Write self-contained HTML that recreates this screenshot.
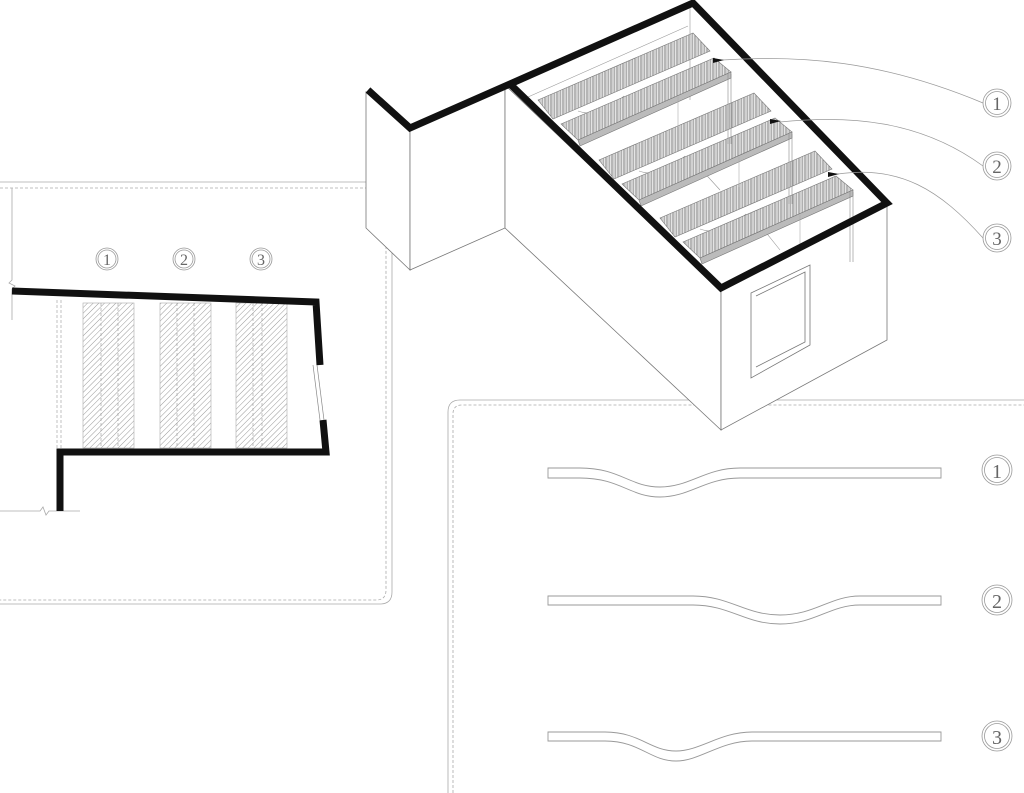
<!DOCTYPE html>
<html><head><meta charset="utf-8"><style>
html,body{margin:0;padding:0;background:#fff;}
svg{display:block;}
text{font-family:"Liberation Serif",serif;fill:#666;}
</style></head><body>
<svg width="1024" height="793" viewBox="0 0 1024 793" xmlns="http://www.w3.org/2000/svg">
<defs>
<pattern id="hat" width="4" height="4" patternUnits="userSpaceOnUse" patternTransform="rotate(45)">
<rect width="4" height="4" fill="#fff"/><line x1="0" y1="0" x2="0" y2="4" stroke="#999" stroke-width="1"/></pattern>
<pattern id="slat" width="6" height="6" patternUnits="userSpaceOnUse">
<rect width="6" height="6" fill="#e4e4e4"/><line x1="1" y1="0" x2="1" y2="6" stroke="#888" stroke-width="1"/><line x1="3" y1="0" x2="3" y2="6" stroke="#aaa" stroke-width="0.7"/><line x1="4.5" y1="0" x2="4.5" y2="6" stroke="#999" stroke-width="0.7"/></pattern>
</defs>

<!-- left panel frame -->
<g fill="none" stroke="#aaa" stroke-width="0.8">
<path d="M0 182 H380 Q392 182 392 194 V592 Q392 604 380 604 H0"/>
<path d="M0 188 H376 Q386 188 386 198 V590 Q386 600 376 600 H0" stroke-dasharray="3 2"/>
<path d="M12 188 V280 l-3 3 l6 3 l-3 3 V320"/>
<path d="M0 511 H40 l3 -4 l3 8 l3 -4 H80"/>
</g>
<!-- plan -->
<rect x="83" y="303" width="51" height="145" fill="url(#hat)" stroke="#aaa" stroke-width="0.6"/>
<rect x="160" y="303" width="51" height="145" fill="url(#hat)" stroke="#aaa" stroke-width="0.6"/>
<rect x="236" y="303" width="51" height="145" fill="url(#hat)" stroke="#aaa" stroke-width="0.6"/>
<g stroke="#999" stroke-width="0.6" stroke-dasharray="3 2">
<line x1="101" y1="303" x2="101" y2="448"/><line x1="118" y1="303" x2="118" y2="448"/>
<line x1="177" y1="303" x2="177" y2="448"/><line x1="194" y1="303" x2="194" y2="448"/>
<line x1="253" y1="303" x2="253" y2="448"/><line x1="262" y1="303" x2="262" y2="448"/>
<line x1="57" y1="300" x2="57" y2="448"/><line x1="61" y1="300" x2="61" y2="448"/>
</g>
<path d="M12 291 L316 302 L320 365" fill="none" stroke="#111" stroke-width="7"/>
<path d="M323 420 L326 452 L60 452 L60 511" fill="none" stroke="#111" stroke-width="7"/>
<path d="M313 365 L320 420 M317 365 L324 420" stroke="#888" stroke-width="0.7"/>
<g fill="none" stroke="#999" stroke-width="0.8">
<circle cx="107" cy="259" r="11"/><circle cx="107" cy="259" r="9"/>
<circle cx="184" cy="259" r="11"/><circle cx="184" cy="259" r="9"/>
<circle cx="261" cy="259" r="11"/><circle cx="261" cy="259" r="9"/>
</g>
<text x="107" y="265" font-size="16" text-anchor="middle">1</text>
<text x="184" y="265" font-size="16" text-anchor="middle">2</text>
<text x="261" y="265" font-size="16" text-anchor="middle">3</text>

<!-- bottom right panel -->
<g fill="none" stroke="#aaa" stroke-width="0.8">
<path d="M448 793 V412 Q448 400 460 400 H1024"/>
<path d="M453 793 V414 Q453 405 462 405 H1024" stroke-dasharray="3 2"/>
</g>
<g fill="#fff" stroke="#999" stroke-width="0.9">
<path d="M548 468 H580 C620 468 630 487 660 487 C690 487 705 468 740 468 H941 V478 H740 C705 478 690 497 660 497 C630 497 620 478 580 478 H548 Z"/>
<path d="M548 596 H693 C730 596 745 615 780 615 C815 615 830 596 860 596 H941 V605 H860 C830 605 815 624 780 624 C745 624 730 605 693 605 H548 Z"/>
<path d="M548 732 H605 C640 732 650 751 676 751 C700 751 720 732 752 732 H941 V741 H752 C720 741 700 761 676 761 C650 761 640 741 605 741 H548 Z"/>
</g>
<g fill="none" stroke="#999" stroke-width="0.8">
<circle cx="997" cy="470" r="15"/><circle cx="997" cy="470" r="12.5"/>
<circle cx="997" cy="600" r="15"/><circle cx="997" cy="600" r="12.5"/>
<circle cx="997" cy="736" r="15"/><circle cx="997" cy="736" r="12.5"/>
<circle cx="997" cy="103" r="14"/><circle cx="997" cy="103" r="11.5"/>
<circle cx="997" cy="166" r="14"/><circle cx="997" cy="166" r="11.5"/>
<circle cx="997" cy="238" r="14"/><circle cx="997" cy="238" r="11.5"/>
</g>
<text x="997" y="478" font-size="20" text-anchor="middle">1</text>
<text x="997" y="608" font-size="20" text-anchor="middle">2</text>
<text x="997" y="744" font-size="20" text-anchor="middle">3</text>
<text x="997" y="110" font-size="19" text-anchor="middle">1</text>
<text x="997" y="173" font-size="19" text-anchor="middle">2</text>
<text x="997" y="245" font-size="19" text-anchor="middle">3</text>

<!-- isometric -->
<g fill="#fff" stroke="#777" stroke-width="0.8">
<path d="M366 92 L366 228 L410 270 L410 128 Z"/>
<path d="M410 128 L505 85 L505 228 L410 270 Z"/>
<path d="M505 85 L721 290 L721 430 L505 228 Z"/>
<path d="M721 290 L887 203 L887 340 L721 430 Z"/>
<path d="M751 293 L810 265 L810 345 L751 378 Z"/>
<path d="M756 296 L805 272 L805 342 L756 367" fill="none"/>
</g>
<g stroke="#999" stroke-width="0.6" fill="none">
<path d="M690 5 V100 M528 97 L688 26"/>
<path d="M700 168 L720 190 M760 225 L780 250"/>
</g>
<!-- beams (defined at beam 3 position) -->
<g id="beam" stroke="#777" stroke-width="0.6">
<path d="M660 218 L815 151 L832 169 L675 237 Z" fill="url(#slat)"/>
<path d="M700 229 Q722 237 746 214" fill="none" stroke="#999"/>
<path d="M683 242 L836 176 L853 190 L700 258 Z" fill="url(#slat)"/>
<path d="M700 258 L853 190 L853 196 L702 264 Z" fill="#bbb"/>
<path d="M850 192 V262 M853 192 V262" stroke="#888"/>
<path d="M800 215 V245" stroke="#aaa"/>
</g>
<use href="#beam" transform="translate(-61,-58)"/>
<use href="#beam" transform="translate(-122,-118)"/>
<!-- thick outline -->
<path d="M368 90 L410 128 L510 84 L693 3 L887 203 L721 288 L510 84" fill="none" stroke="#111" stroke-width="7" stroke-linejoin="miter"/>
<!-- leaders -->
<g fill="none" stroke="#999" stroke-width="0.7">
<path d="M722 60 C800 55 880 60 983 103"/>
<path d="M780 122 C850 115 920 120 983 166"/>
<path d="M838 174 C900 165 940 190 983 238"/>
</g>
<g fill="#111">
<path d="M713 58 L724 60 L713 63 Z"/>
<path d="M770 119 L781 121 L770 124 Z"/>
<path d="M828 172 L839 174 L828 177 Z"/>
</g>
</svg>
</body></html>
